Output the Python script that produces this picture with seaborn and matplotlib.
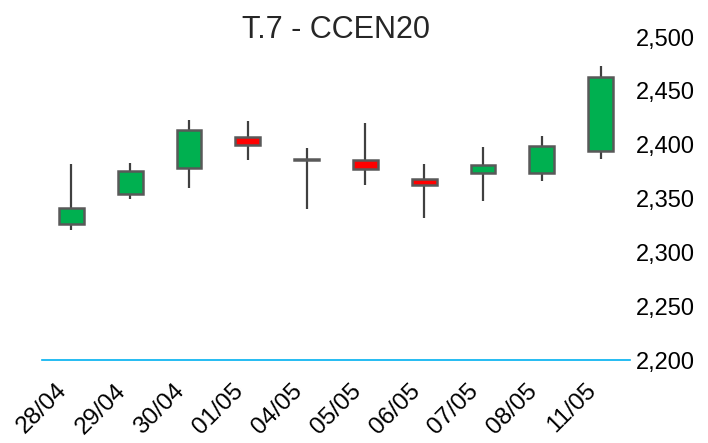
import numpy as np
import matplotlib
matplotlib.use("Agg")
import matplotlib.pyplot as plt
import matplotlib.ticker as mticker
import matplotlib.transforms as mtrans
import seaborn as sns

# podaci sa slike (procjena)
dates = ["28/04", "29/04", "30/04", "01/05", "04/05", "05/05", "06/05", "07/05", "08/05", "11/05"]
open_ = [2326, 2354, 2378, 2407, 2386.5, 2386, 2368, 2374, 2374, 2394]
close = [2341, 2376, 2414, 2400, 2386, 2377, 2363, 2381, 2399, 2463]
high = [2382, 2383, 2423, 2422, 2397, 2420, 2382, 2398, 2408, 2473]
low = [2321, 2350, 2360, 2386, 2340, 2363, 2332, 2348, 2366, 2387]
y_ticks = [2200, 2250, 2300, 2350, 2400, 2450, 2500]

sns.set_theme(style="white")
plt.rcParams['font.family'] = ['Liberation Sans', 'DejaVu Sans']

fig = plt.figure(figsize=(7.08, 4.43), dpi=100)
ax = fig.add_axes([42/708, 83/443, 588/708, 323/443])

x = np.arange(len(dates))
o = np.array(open_)
c = np.array(close)
boje = ['#00B050' if cc >= oo else '#FF0000' for oo, cc in zip(o, c)]

# fitilji
ax.vlines(x, low, high, color='#404040', linewidth=1.6, zorder=1)
# tijela svijeca
ax.bar(x, c - o, bottom=o, width=0.42, color=boje,
       edgecolor='#595959', linewidth=1.8, zorder=2)

ax.set_xlim(-0.5, len(dates) - 0.5)
ax.set_ylim(2200, 2500)
ax.set_xticks(x)
ax.set_xticklabels(dates, rotation=45, ha='right', fontsize=17.5)
pomak = mtrans.ScaledTranslation(5/100, 0, fig.dpi_scale_trans)
for lbl in ax.get_xticklabels():
    lbl.set_transform(lbl.get_transform() + pomak)
ax.set_yticks(y_ticks)
ax.yaxis.set_major_formatter(mticker.FuncFormatter(lambda v, p: f"{v:,.0f}"))
ax.yaxis.tick_right()
ax.tick_params(axis='y', length=0, pad=4, labelsize=17, colors='black')
ax.tick_params(axis='x', length=0, pad=14, colors='black')

sns.despine(ax=ax, left=True, right=True, top=True)
ax.spines['bottom'].set_color('#00B0F0')
ax.spines['bottom'].set_linewidth(1.2)

ax.set_title("T.7 - CCEN20", fontsize=22, pad=-1)

fig.savefig("out.png", dpi=100)
